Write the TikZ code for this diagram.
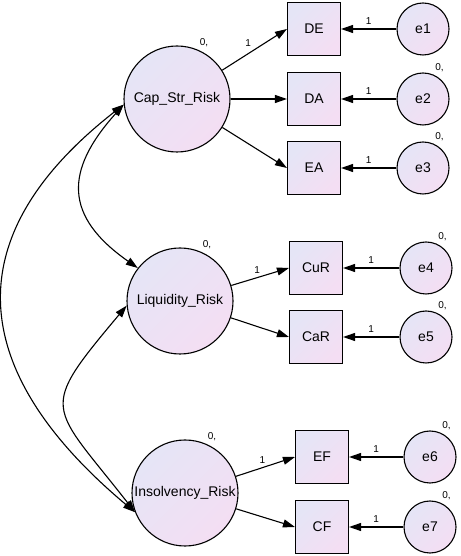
\documentclass[tikz,border=0pt]{standalone}
\usepackage{fontspec}
\setmainfont{Liberation Sans}
\usetikzlibrary{arrows.meta}

\definecolor{lavA}{RGB}{229,229,246}
\definecolor{lavB}{RGB}{244,222,243}

\tikzset{
	var/.style = {draw, line width=1.1pt, top color=lavA, bottom color=lavB, shading angle=45,
		inner sep=0pt, font=\fontsize{14}{16}\selectfont},
	latent/.style = {var, circle, minimum size=106pt},
	observed/.style = {var, rectangle, minimum size=53pt},
	resid/.style = {var, circle, minimum size=52pt},
	zero/.style = {label={[font=\fontsize{10}{12}\selectfont, inner sep=1pt, label distance=2pt]67:0,}},
	one/.style = {font=\fontsize{10}{12}\selectfont, inner sep=1pt},
	link/.style = {line width=1.1pt, -{Triangle[length=12pt, width=8pt]}},
	cov/.style = {line width=1.1pt, {Triangle[length=12pt, width=8pt]}-{Triangle[length=12pt, width=8pt]}}
}

\begin{document}
\begin{tikzpicture}[x=1pt, y=1pt]
	\useasboundingbox (0,0) rectangle (460,556);
	% latent variables
		\node[latent, zero] (cap) at (177,457) {Cap\_Str\_Risk};
		\node[latent, zero] (liq) at (180,255) {Liquidity\_Risk};
		\node[latent, zero] (ins) at (185,63) {Insolvency\_Risk};
	% observed variables
		\node[observed] (DE) at (314,527) {DE};
		\node[observed] (DA) at (314,457) {DA};
		\node[observed] (EA) at (314,388) {EA};
		\node[observed] (CuR) at (316,288) {CuR};
		\node[observed] (CaR) at (316,219) {CaR};
		\node[observed] (EF) at (322,99) {EF};
		\node[observed] (CF) at (322,29) {CF};
	% errors
		\node[resid] (e1) at (423,527) {e1};
		\node[resid, zero] (e2) at (423,457) {e2};
		\node[resid, zero] (e3) at (423,388) {e3};
		\node[resid, zero] (e4) at (426,288) {e4};
		\node[resid, zero] (e5) at (426,219) {e5};
		\node[resid, zero] (e6) at (430,99) {e6};
		\node[resid, zero] (e7) at (430,29) {e7};
	% loadings
		\draw[link] (cap) -- node[one, pos=.4, above=6pt] {1} (DE.west);
		\draw[link] (cap) -- (DA.west);
		\draw[link] (cap) -- (EA.west);
		\draw[link] (liq) -- node[one, pos=.45, above=3pt] {1} (CuR.west);
		\draw[link] (liq) -- (CaR.west);
		\draw[link] (ins) -- node[one, pos=.45, above=3pt] {1} (EF.west);
		\draw[link] (ins) -- (CF.west);
	% error paths
		\foreach \e/\v in {e1/DE, e2/DA, e3/EA, e4/CuR, e5/CaR, e6/EF, e7/CF}
			\draw[link] (\e) -- node[one, above=3pt] {1} (\v);
	% covariances
		\draw[cov] (cap.186) to[out=228, in=145, looseness=1.4] (liq.142);
		\draw[cov] (liq.185) to[out=230, in=128, looseness=1.72] (ins.201);
		\draw[cov] (cap.186) to[out=218, in=140, looseness=1.36] (ins.201);
\end{tikzpicture}
\end{document}
